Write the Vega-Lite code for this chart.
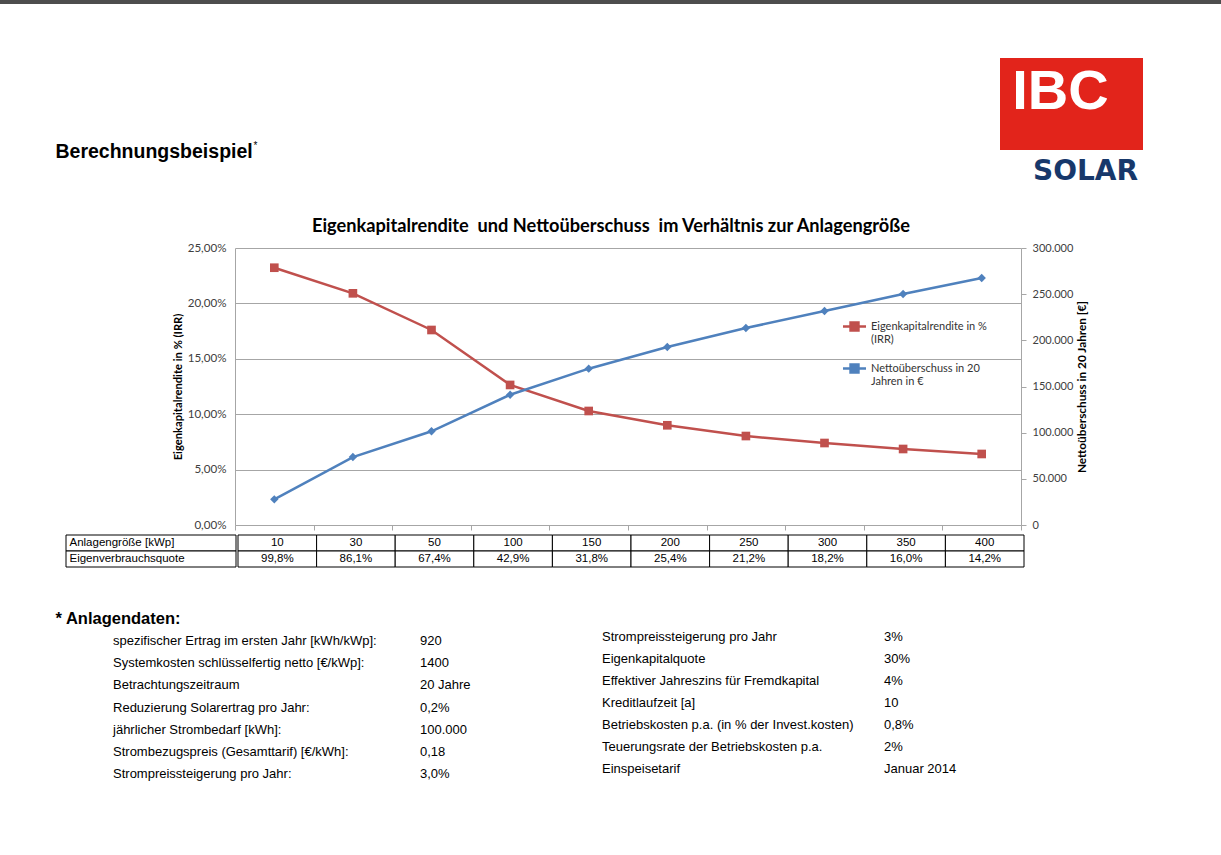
{
  "$schema": "https://vega.github.io/schema/vega-lite/v6.json",
  "padding": 0,
  "background": "white",
  "spacing": 0,
  "config": {
    "view": {"stroke": null},
    "font": "Liberation Sans",
    "concat": {"spacing": 0},
    "locale": {"number": {"decimal": ",", "thousands": ".", "grouping": [3], "currency": ["", " €"]}}
  },
  "datasets": {
    "rows": [
      {"kWp": 10, "irr": 0.2322, "netto": 27800, "quote": "99,8%"},
      {"kWp": 30, "irr": 0.2091, "netto": 73600, "quote": "86,1%"},
      {"kWp": 50, "irr": 0.176, "netto": 101500, "quote": "67,4%"},
      {"kWp": 100, "irr": 0.1264, "netto": 141100, "quote": "42,9%"},
      {"kWp": 150, "irr": 0.1029, "netto": 169300, "quote": "31,8%"},
      {"kWp": 200, "irr": 0.09, "netto": 192800, "quote": "25,4%"},
      {"kWp": 250, "irr": 0.0803, "netto": 213300, "quote": "21,2%"},
      {"kWp": 300, "irr": 0.074, "netto": 231800, "quote": "18,2%"},
      {"kWp": 350, "irr": 0.0686, "netto": 250200, "quote": "16,0%"},
      {"kWp": 400, "irr": 0.0641, "netto": 267500, "quote": "14,2%"}
    ],
    "rowlabels": [
      {"label": "Anlagengröße [kWp]"},
      {"label": "Eigenverbrauchsquote"}
    ],
    "info": [
      {"block": "links", "line": 1, "label": "spezifischer Ertrag im ersten Jahr [kWh/kWp]:", "value": "920"},
      {"block": "links", "line": 2, "label": "Systemkosten schlüsselfertig netto [€/kWp]:", "value": "1400"},
      {"block": "links", "line": 3, "label": "Betrachtungszeitraum", "value": "20 Jahre"},
      {"block": "links", "line": 4, "label": "Reduzierung Solarertrag pro Jahr:", "value": "0,2%"},
      {"block": "links", "line": 5, "label": "jährlicher Strombedarf [kWh]:", "value": "100.000"},
      {"block": "links", "line": 6, "label": "Strombezugspreis (Gesamttarif) [€/kWh]:", "value": "0,18"},
      {"block": "links", "line": 7, "label": "Strompreissteigerung pro Jahr:", "value": "3,0%"},
      {"block": "rechts", "line": 1, "label": "Strompreissteigerung pro Jahr", "value": "3%"},
      {"block": "rechts", "line": 2, "label": "Eigenkapitalquote", "value": "30%"},
      {"block": "rechts", "line": 3, "label": "Effektiver Jahreszins für Fremdkapital", "value": "4%"},
      {"block": "rechts", "line": 4, "label": "Kreditlaufzeit [a]", "value": "10"},
      {"block": "rechts", "line": 5, "label": "Betriebskosten p.a. (in % der Invest.kosten)", "value": "0,8%"},
      {"block": "rechts", "line": 6, "label": "Teuerungsrate der Betriebskosten p.a.", "value": "2%"},
      {"block": "rechts", "line": 7, "label": "Einspeisetarif", "value": "Januar 2014"}
    ]
  },
  "vconcat": [
    {"width": 1221, "height": 4, "data": {"values": [{"part": "Kopfleiste"}]}, "mark": {"type": "rect", "color": "#4d4d4d"}},
    {
      "hconcat": [
        {"width": 55, "height": 1, "data": {"values": [{"s": 1}]}, "mark": {"type": "rect", "opacity": 0}},
        {
          "vconcat": [
            {"width": 1, "height": 136, "data": {"values": [{"s": 1}]}, "mark": {"type": "rect", "opacity": 0}},
            {"width": 1, "height": 24, "data": {"values": [{"t": "Berechnungsbeispiel"}]}, "mark": {"type": "text", "align": "left", "baseline": "middle", "fontSize": 19.5, "fontWeight": "bold", "color": "#000000"}, "encoding": {"text": {"field": "t"}}}
          ],
          "spacing": 0
        },
        {
          "vconcat": [
            {"width": 1, "height": 136, "data": {"values": [{"s": 1}]}, "mark": {"type": "rect", "opacity": 0}},
            {"width": 1, "height": 24, "data": {"values": [{"t": "*"}]}, "mark": {"type": "text", "align": "left", "baseline": "middle", "fontSize": 10, "color": "#000000", "dy": -6}, "encoding": {"text": {"field": "t"}}}
          ],
          "spacing": 0
        },
        {"width": 742, "height": 1, "data": {"values": [{"s": 1}]}, "mark": {"type": "rect", "opacity": 0}},
        {
          "vconcat": [
            {"width": 143, "height": 54, "data": {"values": [{"s": 1}]}, "mark": {"type": "rect", "opacity": 0}},
            {
              "width": 143, "height": 92,
              "data": {"values": [{"brand": "IBC"}]},
              "layer": [
                {"mark": {"type": "rect", "color": "#e2241b"}},
                {"mark": {"type": "text", "font": "Liberation Sans", "fontWeight": "bold", "fontSize": 56, "color": "#ffffff", "baseline": "middle", "dx": -11, "dy": -12}, "encoding": {"text": {"field": "brand"}}}
              ]
            },
            {"width": 143, "height": 36, "data": {"values": [{"brand": "SOLAR"}]}, "mark": {"type": "text", "font": "DejaVu Sans", "fontWeight": "bold", "fontSize": 28, "color": "#17386b", "baseline": "middle", "dx": 14, "dy": 4}, "encoding": {"text": {"field": "brand"}}}
          ],
          "spacing": 0
        }
      ],
      "spacing": 0
    },
    {"width": 1, "height": 30, "data": {"values": [{"s": 1}]}, "mark": {"type": "rect", "opacity": 0}},
    {
      "hconcat": [
        {"width": 172, "height": 1, "data": {"values": [{"s": 1}]}, "mark": {"type": "rect", "opacity": 0}},
        {
          "width": 786, "height": 277,
          "data": {"name": "rows"},
          "title": {"text": "Eigenkapitalrendite\u00a0 und Nettoüberschuss\u00a0 im Verhältnis zur Anlagengröße", "font": "Lato", "fontSize": 18.2, "fontWeight": "bold", "color": "#000000", "anchor": "middle", "frame": "group", "dx": -17, "offset": 6},
          "encoding": {
            "x": {"field": "kWp", "type": "ordinal", "scale": {"paddingInner": 0, "paddingOuter": 0}, "axis": {"title": null, "labels": false, "ticks": true, "tickBand": "extent", "tickSize": 5, "tickColor": "#a6a6a6", "domainColor": "#a6a6a6", "grid": false}}
          },
          "layer": [
            {
              "encoding": {
                "y": {"field": "irr", "type": "quantitative", "scale": {"domain": [0, 0.25]}, "axis": {"orient": "left", "values": [0, 0.05, 0.1, 0.15, 0.2, 0.25], "format": ".2%", "title": "Eigenkapitalrendite in % (IRR)", "titleFont": "Lato", "titleFontSize": 11.2, "titleFontWeight": "bold", "titleColor": "#000000", "titlePadding": 4, "labelFont": "Lato", "labelFontSize": 11.6, "labelColor": "#404040", "ticks": false, "labelPadding": 9, "domainColor": "#a6a6a6", "grid": true, "gridColor": "#a6a6a6"}},
                "color": {
                  "datum": "Eigenkapitalrendite in %|(IRR)",
                  "scale": {"domain": ["Eigenkapitalrendite in %|(IRR)", "Nettoüberschuss in 20|Jahren in €"], "range": ["#c0504d", "#4f81bd"]},
                  "legend": {
                    "orient": "none", "legendX": 846, "legendY": 318, "title": null,
                    "labelExpr": "split(datum.label, '|')",
                    "labelFont": "Lato", "labelFontSize": 11, "labelColor": "#333333", "labelLimit": 220,
                    "symbolType": "M-1.6,0H1.6M-0.55,-0.55H0.55V0.55H-0.55Z",
                    "symbolSize": 207, "symbolStrokeWidth": 2.5, "labelOffset": 8, "rowPadding": 14, "padding": 0
                  }
                }
              },
              "layer": [
                {"mark": {"type": "line", "strokeWidth": 2.5}, "encoding": {}},
                {"mark": {"type": "point", "shape": "square", "filled": true, "size": 75, "opacity": 1}}
              ]
            },
            {
              "encoding": {
                "y": {"field": "netto", "type": "quantitative", "scale": {"domain": [0, 300000]}, "axis": {"orient": "right", "values": [0, 50000, 100000, 150000, 200000, 250000, 300000], "format": ",.0f", "title": "Nettoüberschuss in 20 Jahren [€]", "titleAngle": 270, "titleFont": "Lato", "titleFontSize": 11.8, "titleFontWeight": "bold", "titleColor": "#000000", "titlePadding": 15, "labelFont": "Lato", "labelFontSize": 11, "labelColor": "#404040", "tickSize": 5, "tickColor": "#a6a6a6", "labelPadding": 6, "domainColor": "#a6a6a6", "grid": false}},
                "color": {"datum": "Nettoüberschuss in 20|Jahren in €"}
              },
              "layer": [
                {"mark": {"type": "line", "strokeWidth": 2.5}, "encoding": {}},
                {"mark": {"type": "point", "shape": "diamond", "filled": true, "size": 70, "opacity": 1}}
              ]
            }
          ],
          "resolve": {"scale": {"y": "independent"}}
        }
      ],
      "spacing": 0
    },
    {"width": 1, "height": 3, "data": {"values": [{"s": 1}]}, "mark": {"type": "rect", "opacity": 0}},
    {
      "hconcat": [
        {"width": 65, "height": 1, "data": {"values": [{"s": 1}]}, "mark": {"type": "rect", "opacity": 0}},
        {
          "width": 170, "height": 32,
          "data": {"name": "rowlabels"},
          "mark": {"type": "rect", "fill": "#ffffff", "stroke": "#000000", "strokeWidth": 1},
          "encoding": {
            "y": {"field": "label", "type": "nominal", "sort": null, "scale": {"paddingInner": 0, "paddingOuter": 0}, "axis": {"title": null, "domain": false, "ticks": false, "labelAlign": "left", "labelPadding": -3, "labelFont": "Liberation Sans", "labelFontSize": 11.5, "labelColor": "#000000", "labelLimit": 0, "zindex": 1}}
          }
        },
        {
          "width": 786, "height": 32,
          "data": {"name": "rows"},
          "transform": [{"fold": ["kWp", "quote"], "as": ["zeile", "zelle"]}],
          "encoding": {
            "x": {"field": "kWp", "type": "ordinal", "scale": {"paddingInner": 0, "paddingOuter": 0}, "axis": null},
            "y": {"field": "zeile", "type": "nominal", "scale": {"domain": ["kWp", "quote"], "paddingInner": 0, "paddingOuter": 0}, "axis": null}
          },
          "layer": [
            {"mark": {"type": "rect", "fill": "#ffffff", "stroke": "#000000", "strokeWidth": 1}},
            {"mark": {"type": "text", "font": "Liberation Sans", "fontSize": 11.5, "color": "#000000"}, "encoding": {"text": {"field": "zelle", "type": "nominal"}}}
          ]
        }
      ],
      "spacing": 0
    },
    {"width": 1, "height": 40, "data": {"values": [{"s": 1}]}, "mark": {"type": "rect", "opacity": 0}},
    {
      "hconcat": [
        {"width": 55, "height": 1, "data": {"values": [{"s": 1}]}, "mark": {"type": "rect", "opacity": 0}},
        {
          "vconcat": [
            {"width": 1, "height": 22, "data": {"values": [{"t": "* Anlagendaten:"}]}, "mark": {"type": "text", "align": "left", "baseline": "middle", "fontSize": 16.5, "fontWeight": "bold", "color": "#000000"}, "encoding": {"text": {"field": "t"}}},
            {
              "width": 423, "height": 155,
              "data": {"name": "info"},
              "transform": [{"filter": "datum.block === 'links'"}, {"fold": ["label", "value"], "as": ["part", "text"]}],
              "mark": {"type": "text", "align": "left", "baseline": "middle", "fontSize": 13, "color": "#000000"},
              "encoding": {
                "x": {"field": "part", "type": "nominal", "scale": {"type": "point", "padding": 0.189, "domain": ["label", "value"]}, "axis": null},
                "y": {"field": "line", "type": "ordinal", "scale": {"paddingInner": 0, "paddingOuter": 0}, "axis": null},
                "text": {"field": "text"}
              }
            }
          ],
          "spacing": 0
        },
        {"width": 124, "height": 1, "data": {"values": [{"s": 1}]}, "mark": {"type": "rect", "opacity": 0}},
        {
          "vconcat": [
            {"width": 1, "height": 18, "data": {"values": [{"s": 1}]}, "mark": {"type": "rect", "opacity": 0}},
            {
              "width": 282, "height": 154,
              "data": {"name": "info"},
              "transform": [{"filter": "datum.block === 'rechts'"}, {"fold": ["label", "value"], "as": ["part", "text"]}],
              "mark": {"type": "text", "align": "left", "baseline": "middle", "fontSize": 13, "color": "#000000"},
              "encoding": {
                "x": {"field": "part", "type": "nominal", "scale": {"type": "point", "padding": 0, "domain": ["label", "value"]}, "axis": null},
                "y": {"field": "line", "type": "ordinal", "scale": {"paddingInner": 0, "paddingOuter": 0}, "axis": null},
                "text": {"field": "text"}
              }
            }
          ],
          "spacing": 0
        }
      ],
      "spacing": 0
    }
  ]
}
